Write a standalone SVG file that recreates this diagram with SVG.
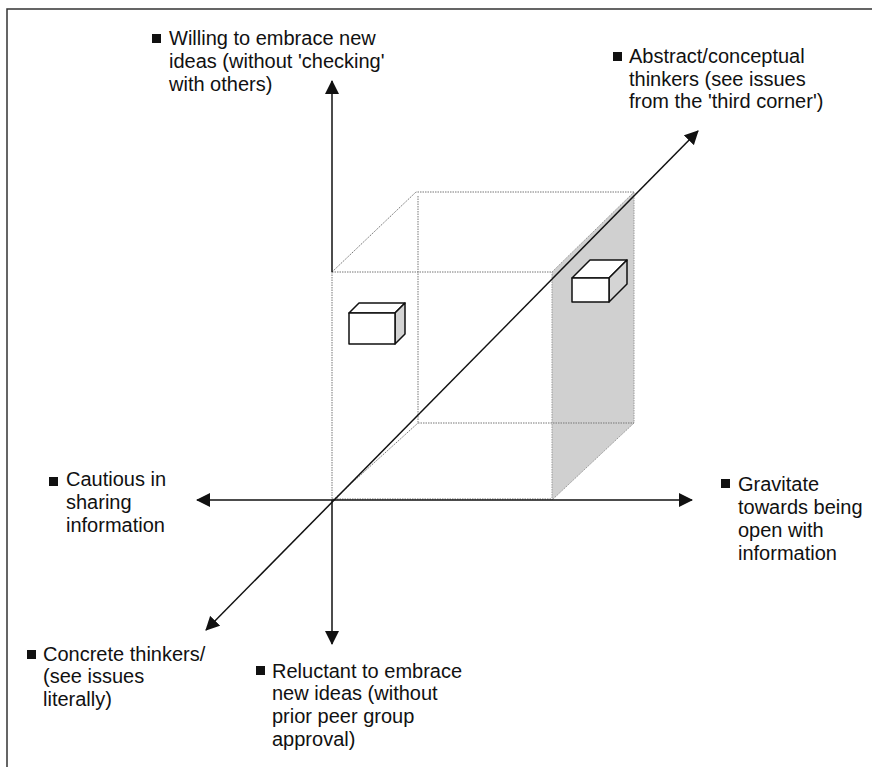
<svg xmlns="http://www.w3.org/2000/svg" width="872" height="767" viewBox="0 0 872 767">
<style>
text{font-family:"Liberation Sans",Arial,sans-serif;font-size:20px;fill:#111}
.ax{stroke:#111;stroke-width:1.5;fill:none}
.dot{stroke:#777;stroke-width:1;stroke-dasharray:1.5 1;fill:none}
.box{stroke:#111;stroke-width:1.5;stroke-linejoin:round}
.bul{fill:#111}
</style>
<defs>
<marker id="ah" viewBox="0 0 14 14" refX="13" refY="7" markerWidth="14" markerHeight="14" markerUnits="userSpaceOnUse" orient="auto">
<path d="M0,0 L14,7 L0,14 Z" fill="#111"/>
</marker>
</defs>
<rect x="0" y="0" width="872" height="767" fill="#fff"/>
<rect id="frame" x="7" y="9" width="900" height="800" fill="none" stroke="#333" stroke-width="1.5"/>

<g id="cube">
<polygon points="552,272 634,192 634,423 552,500" fill="#d0d0d0" stroke="#999" stroke-width="1" stroke-dasharray="1.5 1"/>
<polyline class="dot" points="332,272 416,192 634,192"/>
<line class="dot" x1="332" y1="272" x2="552" y2="272"/>
<line class="dot" x1="418" y1="196" x2="418" y2="423"/>
<line class="dot" x1="418" y1="423" x2="634" y2="423"/>
<line class="dot" x1="333" y1="500" x2="418" y2="423"/>
<line class="dot" x1="332" y1="272" x2="332" y2="500"/>
<line class="dot" x1="332" y1="499" x2="552" y2="499"/>
</g>

<g id="connectors">
<line class="ax" x1="332" y1="272" x2="332" y2="81" marker-end="url(#ah)"/>
<line class="ax" x1="332" y1="500" x2="332" y2="644" marker-end="url(#ah)"/>
<line class="ax" x1="332" y1="500" x2="197" y2="500" marker-end="url(#ah)"/>
<line class="ax" x1="332" y1="500" x2="692" y2="500" marker-end="url(#ah)"/>
<line class="ax" x1="420" y1="413" x2="698" y2="131" marker-end="url(#ah)"/>
<line class="ax" x1="420" y1="413" x2="206" y2="630" marker-end="url(#ah)"/>
</g>

<g id="box1">
<polygon class="box" points="349,313 359,303 405,303 395,313" fill="#fff"/>
<polygon class="box" points="395,313 405,303 405,334 395,344" fill="#d4d4d4"/>
<rect class="box" x="349" y="313" width="46" height="31" fill="#fff"/>
</g>
<g id="box2">
<polygon class="box" points="572,278 590,260 627,260 609,278" fill="#fff"/>
<polygon class="box" points="609,278 627,260 627,284 609,302" fill="#d4d4d4"/>
<rect class="box" x="572" y="278" width="37" height="24" fill="#fff"/>
</g>

<g id="label-willing">
<rect class="bul" x="152" y="34" width="9" height="9"/>
<text x="169" y="45">Willing to embrace new</text>
<text x="169" y="68">ideas (without 'checking'</text>
<text x="169" y="91">with others)</text>
</g>
<g id="label-abstract">
<rect class="bul" x="613" y="52" width="9" height="9"/>
<text x="629" y="63">Abstract/conceptual</text>
<text x="629" y="86">thinkers (see issues</text>
<text x="629" y="108">from the 'third corner')</text>
</g>
<g id="label-cautious">
<rect class="bul" x="49" y="477" width="9" height="9"/>
<text x="66" y="486">Cautious in</text>
<text x="66" y="509">sharing</text>
<text x="66" y="532">information</text>
</g>
<g id="label-gravitate">
<rect class="bul" x="721" y="479" width="9" height="9"/>
<text x="738" y="491">Gravitate</text>
<text x="738" y="514">towards being</text>
<text x="738" y="537">open with</text>
<text x="738" y="560">information</text>
</g>
<g id="label-concrete">
<rect class="bul" x="27" y="650" width="9" height="9"/>
<text x="43" y="661">Concrete thinkers/</text>
<text x="43" y="683">(see issues</text>
<text x="43" y="706">literally)</text>
</g>
<g id="label-reluctant">
<rect class="bul" x="256" y="666" width="9" height="9"/>
<text x="272" y="678">Reluctant to embrace</text>
<text x="272" y="700">new ideas (without</text>
<text x="272" y="723">prior peer group</text>
<text x="272" y="746">approval)</text>
</g>
</svg>
